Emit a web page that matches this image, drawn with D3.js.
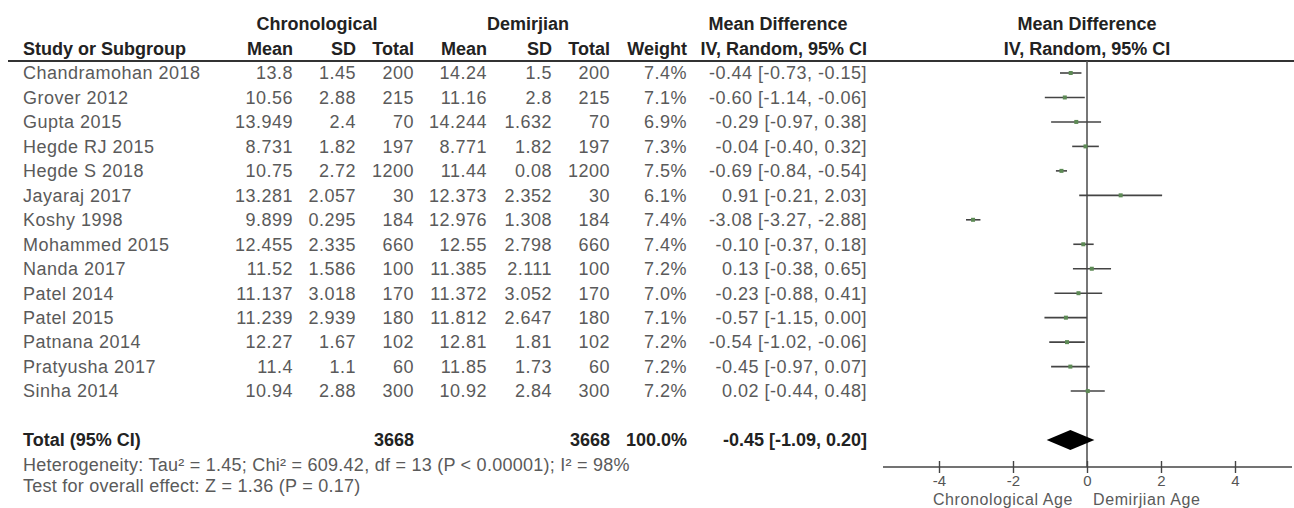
<!DOCTYPE html>
<html>
<head>
<meta charset="utf-8">
<script src="https://cdn.jsdelivr.net/npm/d3@7"></script>
<style>
  body { margin: 0; background: #fff; }
  svg text { font-family: "Liberation Sans", Arial, sans-serif; }
</style>
</head>
<body>
<div id="chart"></div>
<script>
// data
var studies = ["Chandramohan 2018", "Grover 2012", "Gupta 2015", "Hegde RJ 2015", "Hegde S 2018",
  "Jayaraj 2017", "Koshy 1998", "Mohammed 2015", "Nanda 2017", "Patel 2014", "Patel 2015",
  "Patnana 2014", "Pratyusha 2017", "Sinha 2014"];
var chronoMean = ["13.8", "10.56", "13.949", "8.731", "10.75", "13.281", "9.899", "12.455", "11.52", "11.137", "11.239", "12.27", "11.4", "10.94"];
var chronoSD = ["1.45", "2.88", "2.4", "1.82", "2.72", "2.057", "0.295", "2.335", "1.586", "3.018", "2.939", "1.67", "1.1", "2.88"];
var chronoN = [200, 215, 70, 197, 1200, 30, 184, 660, 100, 170, 180, 102, 60, 300];
var demirMean = ["14.24", "11.16", "14.244", "8.771", "11.44", "12.373", "12.976", "12.55", "11.385", "11.372", "11.812", "12.81", "11.85", "10.92"];
var demirSD = ["1.5", "2.8", "1.632", "1.82", "0.08", "2.352", "1.308", "2.798", "2.111", "3.052", "2.647", "1.81", "1.73", "2.84"];
var demirN = [200, 215, 70, 197, 1200, 30, 184, 660, 100, 170, 180, 102, 60, 300];
var weights = [7.4, 7.1, 6.9, 7.3, 7.5, 6.1, 7.4, 7.4, 7.2, 7.0, 7.1, 7.2, 7.2, 7.2];
var md = [-0.44, -0.60, -0.29, -0.04, -0.69, 0.91, -3.08, -0.10, 0.13, -0.23, -0.57, -0.54, -0.45, 0.02];
var lower = [-0.73, -1.14, -0.97, -0.40, -0.84, -0.21, -3.27, -0.37, -0.38, -0.88, -1.15, -1.02, -0.97, -0.44];
var upper = [-0.15, -0.06, 0.38, 0.32, -0.54, 2.03, -2.88, 0.18, 0.65, 0.41, 0.00, -0.06, 0.07, 0.48];

var total = {n1: 3668, n2: 3668, weight: "100.0%", md: -0.45, lo: -1.09, hi: 0.20};
var xTicks = [-4, -2, 0, 2, 4];
var heterogeneity = "Heterogeneity: Tau\u00b2 = 1.45; Chi\u00b2 = 609.42, df = 13 (P < 0.00001); I\u00b2 = 98%";
var overallTest = "Test for overall effect: Z = 1.36 (P = 0.17)";

var width = 1294, height = 508;

var svg = d3.select("#chart").append("svg")
  .attr("width", width)
  .attr("height", height);

// row positions: 14 studies, one blank, total
var y = d3.scaleLinear().domain([0, 15]).range([73, 440]);
var x = d3.scaleLinear().domain([-4, 4]).range([939, 1235]);

// plain hyphen minus like the original, not the unicode one d3.format gives
function f2(v) { return (+v).toFixed(2); }
function ciText(m, l, u) {
  return f2(m) + " [" + f2(l) + ", " + f2(u) + "]";
}

// column right edges for the table
var cols = [
  {key: "cm", x: 293, head: "Mean"},
  {key: "cs", x: 356, head: "SD"},
  {key: "cn", x: 414, head: "Total"},
  {key: "dm", x: 487, head: "Mean"},
  {key: "ds", x: 552, head: "SD"},
  {key: "dn", x: 610, head: "Total"},
  {key: "w", x: 687, head: "Weight"},
  {key: "ci", x: 867, head: "IV, Random, 95% CI"}
];

var fs = 18;
var textCol = "#5a5a5a";
var boldCol = "#222";

// headers
var head = svg.append("g").attr("font-weight", "bold").attr("fill", boldCol).attr("font-size", fs);
head.append("text").attr("x", 317).attr("y", 30).attr("text-anchor", "middle").text("Chronological");
head.append("text").attr("x", 528).attr("y", 30).attr("text-anchor", "middle").text("Demirjian");
head.append("text").attr("x", 778).attr("y", 30).attr("text-anchor", "middle").text("Mean Difference");
head.append("text").attr("x", x(0)).attr("y", 30).attr("text-anchor", "middle").text("Mean Difference");
head.append("text").attr("x", 23).attr("y", 55).text("Study or Subgroup");
cols.forEach(function(c) {
  head.append("text").attr("x", c.x).attr("y", 55).attr("text-anchor", "end").text(c.head);
});
head.append("text").attr("x", x(0)).attr("y", 55).attr("text-anchor", "middle").text("IV, Random, 95% CI");

svg.append("line")
  .attr("x1", 8).attr("x2", width)
  .attr("y1", 61).attr("y2", 61)
  .attr("stroke", "#333").attr("stroke-width", 2.2);

// study rows
var rows = studies.map(function(s, i) {
  return {
    name: s, i: i,
    cm: chronoMean[i], cs: chronoSD[i], cn: chronoN[i],
    dm: demirMean[i], ds: demirSD[i], dn: demirN[i],
    w: weights[i].toFixed(1) + "%",
    ci: ciText(md[i], lower[i], upper[i])
  };
});

var body = svg.append("g").attr("fill", textCol).attr("font-size", fs).attr("letter-spacing", 0.5);
var rowG = body.selectAll("g.row").data(rows).join("g")
  .attr("class", "row")
  .attr("transform", function(d) { return "translate(0," + y(d.i) + ")"; });

rowG.append("text").attr("x", 23).attr("dy", "0.35em").text(function(d) { return d.name; });
cols.forEach(function(c) {
  rowG.append("text").attr("x", c.x).attr("dy", "0.35em")
    .attr("text-anchor", "end")
    .text(function(d) { return d[c.key]; });
});

// total row
var tot = svg.append("g").attr("font-weight", "bold").attr("fill", boldCol).attr("font-size", fs)
  .attr("transform", "translate(0," + y(15) + ")");
tot.append("text").attr("x", 23).attr("dy", "0.35em").text("Total (95% CI)");
tot.append("text").attr("x", 414).attr("dy", "0.35em").attr("text-anchor", "end").text(total.n1);
tot.append("text").attr("x", 610).attr("dy", "0.35em").attr("text-anchor", "end").text(total.n2);
tot.append("text").attr("x", 687).attr("dy", "0.35em").attr("text-anchor", "end").text(total.weight);
tot.append("text").attr("x", 867).attr("dy", "0.35em").attr("text-anchor", "end").text(ciText(total.md, total.lo, total.hi));

var foot = svg.append("g").attr("font-size", fs).attr("fill", textCol).attr("letter-spacing", 0.25);
foot.append("text").attr("x", 23).attr("y", 465).attr("dy", "0.35em").text(heterogeneity);
foot.append("text").attr("x", 23).attr("y", 486).attr("dy", "0.35em").text(overallTest);

// forest plot
var plot = svg.append("g");
var axisY = 467;

plot.append("line")
  .attr("x1", x(0)).attr("x2", x(0))
  .attr("y1", 61).attr("y2", axisY)
  .attr("stroke", "#555").attr("stroke-width", 1.6);

var ciG = plot.selectAll("g.ci").data(rows).join("g").attr("class", "ci");
ciG.append("line")
  .attr("x1", function(d) { return x(lower[d.i]); })
  .attr("x2", function(d) { return x(upper[d.i]); })
  .attr("y1", function(d) { return y(d.i); })
  .attr("y2", function(d) { return y(d.i); })
  .attr("stroke", "#444").attr("stroke-width", 1.6);
ciG.append("rect")
  .attr("x", function(d) { return x(md[d.i]) - 2; })
  .attr("y", function(d) { return y(d.i) - 2; })
  .attr("width", 4).attr("height", 4)
  .attr("fill", "#5d8a55");

// pooled diamond
var yT = y(15);
plot.append("path")
  .attr("d", "M" + x(total.lo) + "," + yT +
             "L" + x(total.md) + "," + (yT - 10) +
             "L" + x(total.hi) + "," + yT +
             "L" + x(total.md) + "," + (yT + 10) + "Z")
  .attr("fill", "#000");

// axis
plot.append("line")
  .attr("x1", 883).attr("x2", 1292)
  .attr("y1", axisY).attr("y2", axisY)
  .attr("stroke", "#444").attr("stroke-width", 1.6);

var ax = plot.append("g")
  .attr("transform", "translate(0," + axisY + ")")
  .call(d3.axisBottom(x).tickValues(xTicks).tickSize(6).tickFormat(function(d) { return String(d); }));
ax.select(".domain").remove();
ax.selectAll(".tick line").attr("y1", -6).attr("stroke", "#444").attr("stroke-width", 1.4);
ax.selectAll(".tick text")
  .attr("y", 8)
  .attr("font-size", 15)
  .attr("fill", "#555")
  .attr("font-family", "Liberation Sans, Arial, sans-serif");

plot.append("text").attr("x", x(0) - 14).attr("y", 499).attr("dy", "0.35em")
  .attr("text-anchor", "end").attr("font-size", 16).attr("letter-spacing", 0.6)
  .attr("fill", textCol).text("Chronological Age");
plot.append("text").attr("x", x(0) + 6).attr("y", 499).attr("dy", "0.35em")
  .attr("text-anchor", "start").attr("font-size", 16).attr("letter-spacing", 0.6)
  .attr("fill", textCol).text("Demirjian Age");
</script>
</body>
</html>
